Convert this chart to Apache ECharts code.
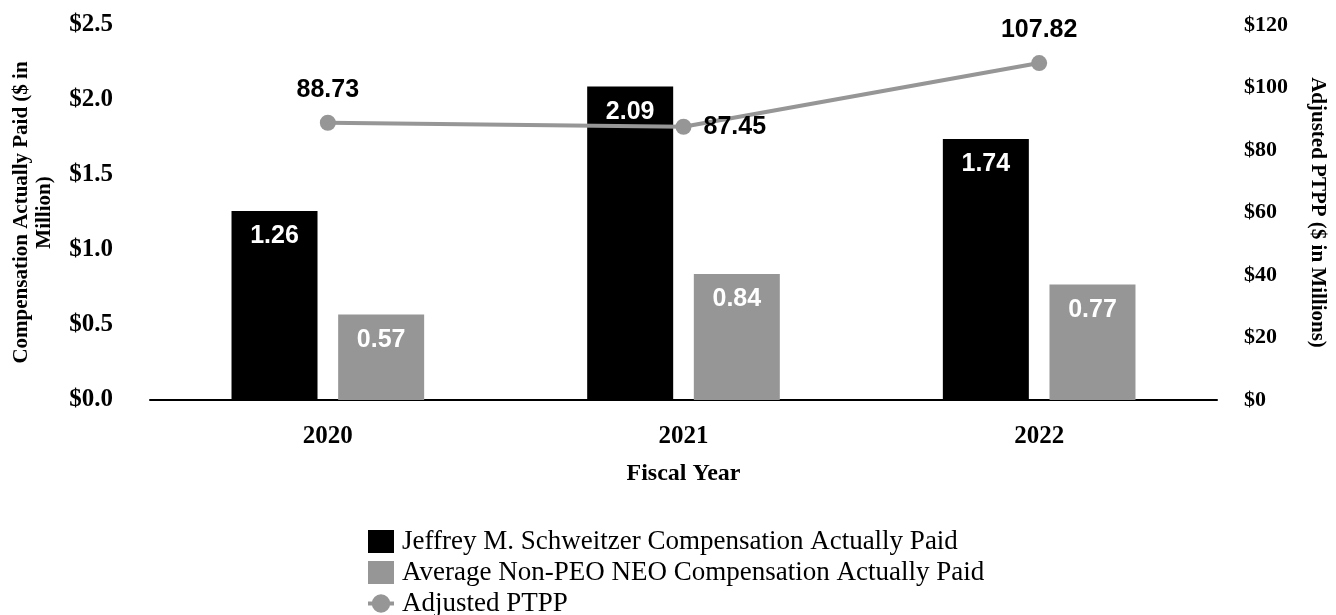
<!DOCTYPE html>
<html><head><meta charset="utf-8">
<script src="https://cdn.jsdelivr.net/npm/echarts@6/dist/echarts.min.js"></script>
<style>html,body{margin:0;padding:0;background:#fff}#c{width:1336px;height:615px}</style>
</head><body><div id="c"></div>
<script>
var categories = ['2020', '2021', '2022'];
var peoValues = [1.26, 2.09, 1.74];
var neoValues = [0.57, 0.84, 0.77];
var ptppValues = [88.73, 87.45, 107.82];
var leftTicks = ['$0.0', '$0.5', '$1.0', '$1.5', '$2.0', '$2.5'];
var rightTicks = ['$0', '$20', '$40', '$60', '$80', '$100', '$120'];
var seriesNames = ['Jeffrey M. Schweitzer Compensation Actually Paid', 'Average Non-PEO NEO Compensation Actually Paid', 'Adjusted PTPP'];

var serif = 'Liberation Serif';
var sans = 'Liberation Sans';
var chart = echarts.init(document.getElementById('c'));
var ptppLabelPos = ['top', 'right', 'top'];
chart.setOption({
  animation: false,
  grid: { left: 150, right: 116, top: 25, bottom: 215 },
  legend: {
    orient: 'vertical', left: 366, top: 528, height: 95, padding: 0,
    itemWidth: 26, itemHeight: 23, itemGap: 4,
    textStyle: { fontFamily: serif, fontSize: 27, lineHeight: 23, color: '#000', padding: [0, 0, 0, 3] },
    data: [
      { name: seriesNames[0], icon: 'rect' },
      { name: seriesNames[1], icon: 'rect' },
      { name: seriesNames[2], lineStyle: { width: 4, color: '#969696' } }
    ]
  },
  xAxis: {
    type: 'category', data: categories,
    name: 'Fiscal Year', nameLocation: 'middle', nameGap: 62,
    nameTextStyle: { fontFamily: serif, fontSize: 24, fontWeight: 'bold', color: '#000' },
    axisLine: { lineStyle: { color: '#000', width: 2 } },
    axisTick: { show: false },
    axisLabel: { fontFamily: serif, fontSize: 25, fontWeight: 'bold', color: '#000', margin: 24 }
  },
  yAxis: [
    {
      type: 'value', min: 0, max: 2.5, interval: 0.5, position: 'left',
      name: 'Compensation Actually Paid ($ in\nMillion)', nameLocation: 'middle', nameGap: 94,
      nameTextStyle: { fontFamily: serif, fontSize: 21, fontWeight: 'bold', color: '#000', lineHeight: 23 },
      splitLine: { show: false }, axisLine: { show: false }, axisTick: { show: false },
      axisLabel: { fontFamily: serif, fontSize: 25, fontWeight: 'bold', color: '#000', margin: 37,
        formatter: function (v) { return leftTicks[Math.round(v / 0.5)]; } }
    },
    {
      type: 'value', min: 0, max: 120, interval: 20, position: 'right',
      name: 'Adjusted PTPP ($ in Millions)', nameLocation: 'middle', nameGap: 90, nameRotate: -90,
      nameTextStyle: { fontFamily: serif, fontSize: 21, fontWeight: 'bold', color: '#000' },
      splitLine: { show: false }, axisLine: { show: false }, axisTick: { show: false },
      axisLabel: { fontFamily: serif, fontSize: 22, fontWeight: 'bold', color: '#000', margin: 27,
        formatter: function (v) { return rightTicks[Math.round(v / 20)]; } }
    }
  ],
  series: [
    {
      name: seriesNames[0], type: 'bar', data: peoValues, yAxisIndex: 0,
      barWidth: 86, barGap: '24%', itemStyle: { color: '#000' },
      label: { show: true, position: 'insideTop', distance: 13, color: '#fff', fontFamily: sans, fontSize: 25, fontWeight: 'bold',
        formatter: function (p) { return p.value.toFixed(2); } }
    },
    {
      name: seriesNames[1], type: 'bar', data: neoValues, yAxisIndex: 0,
      barWidth: 86, itemStyle: { color: '#969696' },
      label: { show: true, position: 'insideTop', distance: 13, color: '#fff', fontFamily: sans, fontSize: 25, fontWeight: 'bold',
        formatter: function (p) { return p.value.toFixed(2); } }
    },
    {
      name: seriesNames[2], type: 'line', yAxisIndex: 1,
      data: ptppValues.map(function (v, i) {
        return { value: v, label: { position: ptppLabelPos[i], distance: 12 } };
      }),
      symbol: 'circle', symbolSize: 16,
      lineStyle: { color: '#969696', width: 4 }, itemStyle: { color: '#969696' },
      label: { show: true, color: '#000', fontFamily: sans, fontSize: 25, fontWeight: 'bold',
        formatter: function (p) { return p.value.toFixed(2); } },
      z: 5
    }
  ]
});
</script></body></html>
